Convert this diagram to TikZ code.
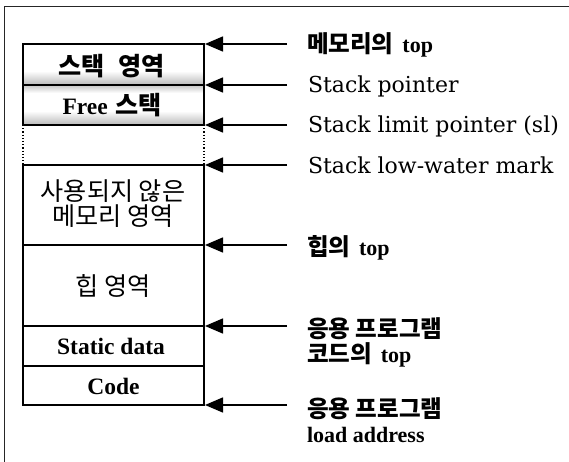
\documentclass[tikz,border=0pt]{standalone}
\usepackage{fontspec}
\setmainfont{DejaVu Serif}
\newfontfamily\lat{Liberation Serif}
\newfontfamily\kr[Scale=1.07]{Noto Sans CJK KR}
\usetikzlibrary{arrows.meta}
\begin{document}
\begin{tikzpicture}[x=1pt,y=-1pt,
  every node/.style={inner sep=0pt, outer sep=0pt},
  ptr/.style={-{Triangle[length=18pt,width=15pt]}, line width=1.4pt},
  boxline/.style={line width=1.2pt},
  thickline/.style={line width=2.2pt},
  lbl/.style={anchor=west, font=\fontsize{22}{25}\selectfont, align=left},
  inb/.style={font=\fontsize{23.5}{25}\selectfont, align=center},
]
\useasboundingbox[fill=white] (0,0) rectangle (569,462);
\begin{scope}
\clip (0,0) rectangle (569,462);
\draw[line width=0.9pt, black!85] (4,470) -- (4,6) -- (575,6);
\end{scope}
% shading bands
\shade[top color=white, bottom color=gray!55] (23,71) rectangle (204,85);
\shade[top color=gray!45, bottom color=white] (23,85) rectangle (204,93);
\shade[top color=white, bottom color=gray!55] (23,111) rectangle (204,125);
% box outline
\draw[boxline] (23,125) -- (23,44) -- (204,44) -- (204,125);
\draw[boxline, dotted] (23,125) -- (23,165) (204,125) -- (204,165);
\draw[boxline] (23,165) rectangle (204,405);
\draw[thickline] (23,85) -- (204,85);
\draw[thickline] (23,125) -- (204,125);
\draw[boxline] (23,245) -- (204,245) (23,326) -- (204,326) (23,366) -- (204,366);
% box labels
\node[inb] (stk) at (111.5,66) {\kr\bfseries 스택\hspace{0.3em} 영역};
\node[inb] (fre) at (112,105) {{\lat\bfseries Free} {\kr\bfseries 스택}};
\node[inb] (unu) at (113,204) {\kr 사용되지 않은\\\kr 메모리 영역};
\node[inb] (hep) at (113.5,286) {\kr 힙 영역};
\node[inb] (sta) at (111,346) {\lat\bfseries Static data};
\node[inb] (cod) at (113.5,386) {\lat\bfseries Code};
% targets and starts
\foreach \i/\y in {1/44,2/85,3/125,4/165,5/245,6/326,7/405}{
  \coordinate (t\i) at (205,\y);
  \coordinate (s\i) at (287,\y);
}
% labels
\node[lbl] (l1) at (307,45) {{\kr\bfseries 메모리의}\hspace{0.4em}{\lat\bfseries top}};
\node[lbl] (l2) at (308,86) {Stack pointer};
\node[lbl] (l3) at (308,126) {Stack limit pointer (sl)};
\node[lbl] (l4) at (308,165) {Stack low-water mark};
\node[lbl] (l5) at (307,248) {{\kr\bfseries 힙의}\hspace{0.4em}{\lat\bfseries top}};
\node[lbl] (l6) at (307,342) {{\kr\bfseries 응용 프로그램}\\{\kr\bfseries 코드의}\hspace{0.4em}{\lat\bfseries top}};
\node[lbl] (l7) at (307,420) {{\kr\bfseries 응용 프로그램}\\{\lat\bfseries load address}};
% arrows
\foreach \i in {1,...,7}{
  \draw[ptr] (s\i) -- (t\i);
}
\end{tikzpicture}
\end{document}
